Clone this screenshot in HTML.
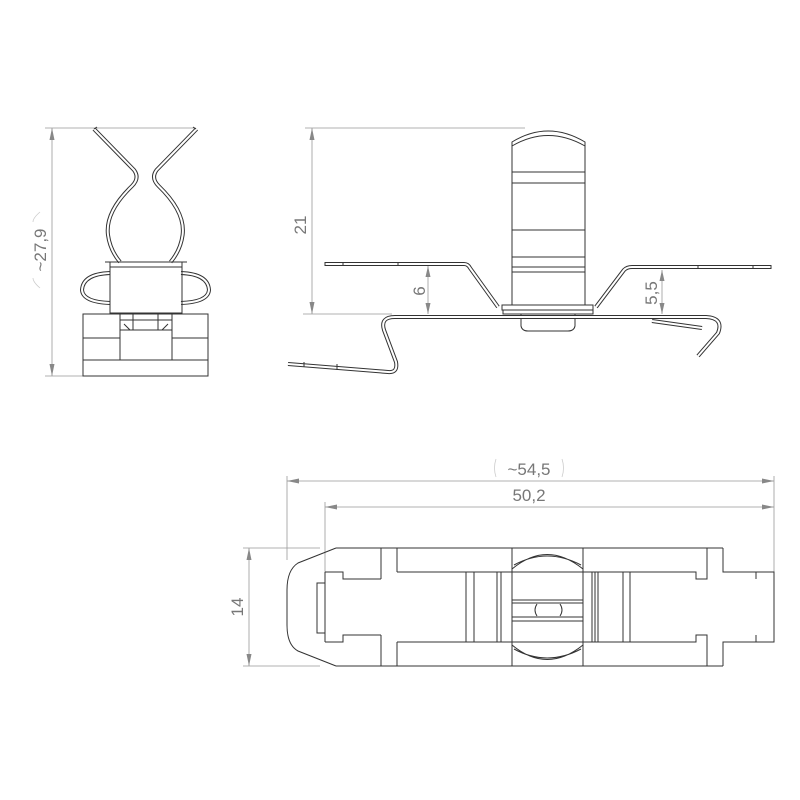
<!DOCTYPE html>
<html><head><meta charset="utf-8"><style>
html,body{margin:0;padding:0;background:#fff;}
svg{display:block;}
text{font-family:"Liberation Sans",sans-serif;fill:#777;font-size:17px;}
.d{stroke:#999;stroke-width:0.8;fill:none;}
.l{stroke:#333;stroke-width:1;fill:none;}
.w1{stroke:#333;stroke-width:4;fill:none;stroke-linejoin:round;}
.w2{stroke:#fff;stroke-width:2;fill:none;stroke-linejoin:round;}
.ar{fill:#888;}
</style></head><body>
<svg width="800" height="800" viewBox="0 0 800 800">
<!-- FRONT VIEW -->
<line class="d" x1="45" y1="128" x2="195" y2="128"/>
<line class="d" x1="45" y1="376" x2="85" y2="376"/>
<line class="d" x1="52" y1="128" x2="52" y2="376"/>
<polygon class="ar" points="52,128 49.5,140 54.5,140"/>
<polygon class="ar" points="52,376 49.5,364 54.5,364"/>
<text transform="translate(46,250) rotate(-90)" text-anchor="middle">~27,9</text>
<path class="d" d="M40,212 Q33,218 33,222 M40,288 Q33,282 33,278" style="stroke:#ccc"/>
<g>
<path class="w1" d="M94,129 L134,170 Q140,178 132,186 Q105,212 108,235 Q110,250 120,262"/>
<path class="w2" d="M94,129 L134,170 Q140,178 132,186 Q105,212 108,235 Q110,250 120,262"/>
<path class="w1" d="M196.6,129 L156.6,170 Q150.6,178 158.6,186 Q185.6,212 182.6,235 Q180.6,250 170.6,262"/>
<path class="w2" d="M196.6,129 L156.6,170 Q150.6,178 158.6,186 Q185.6,212 182.6,235 Q180.6,250 170.6,262"/>
<path class="w1" d="M110,273 Q83,274 82,290 Q83,302 110,303"/>
<path class="w2" d="M110,273 Q83,274 82,290 Q83,302 110,303"/>
<path class="w1" d="M181,273 Q208,274 209,290 Q208,302 181,303"/>
<path class="w2" d="M181,273 Q208,274 209,290 Q208,302 181,303"/>
</g>
<line class="l" x1="94" y1="129" x2="97" y2="127"/><line class="l" x1="196" y1="129" x2="193" y2="127"/>
<rect class="l" x="110" y="262" width="72" height="51" fill="#fff"/>
<line class="l" x1="110" y1="267" x2="182" y2="267"/>
<line class="l" x1="105" y1="262" x2="187" y2="262"/>
<rect class="l" x="83" y="314" width="125" height="62"/>
<path class="l" d="M83,338 H120 M120,314 V360 M172,314 V360 M172,338 H208 M83,360 H208"/>
<path class="l" d="M133,314 V330 M158,314 V330 M120,330 H172 M124,324 L130,330 M168,324 L162,330"/>
<path class="l" d="M120,320 H172"/>

<!-- SIDE VIEW -->
<line class="d" x1="305" y1="128" x2="525" y2="128"/>
<line class="d" x1="303" y1="314" x2="392" y2="314"/>
<line class="d" x1="312" y1="128" x2="312" y2="314"/>
<polygon class="ar" points="312,128 309.5,140 314.5,140"/>
<polygon class="ar" points="312,314 309.5,302 314.5,302"/>
<text transform="translate(306,225) rotate(-90)" text-anchor="middle">21</text>
<path class="l" d="M512,305 V142 Q548,120 585,142 V305"/>
<path class="l" d="M512,146 Q548,125 585,146"/>
<path class="l" d="M512,172 H585 M512,183 H585 M512,230 H585 M512,257 H585 M512,267 H585 M512,272 H585"/>
<rect class="l" x="502" y="305" width="91" height="5"/>
<rect class="l" x="503" y="310" width="90" height="4"/>
<path class="l" d="M521,314 V326 Q522,331 528,331 H568 Q574,331 575,326 V314"/>
<path class="w1" d="M325,264 L464,264 Q468,264 470,268 L498,307"/>
<path class="w2" d="M325,264 L464,264 Q468,264 470,268 L498,307"/>
<path class="w1" d="M596,307 L624,270 Q627,267 632,267 L771,267"/>
<path class="w2" d="M596,307 L624,270 Q627,267 632,267 L771,267"/>
<path class="l" d="M343,262 V266 M398,262 V266 M698,265 V269 M753,265 V269 M771,265 V269 M325,262 V266"/>
<line class="d" x1="428" y1="266" x2="428" y2="314"/>
<polygon class="ar" points="428,266 425.5,277 430.5,277"/>
<polygon class="ar" points="428,314 425.5,303 430.5,303"/>
<text transform="translate(425,291) rotate(-90)" text-anchor="middle">6</text>
<line class="d" x1="662" y1="270" x2="662" y2="314"/>
<polygon class="ar" points="662,270 659.5,281 664.5,281"/>
<polygon class="ar" points="662,314 659.5,303 664.5,303"/>
<text transform="translate(657,293) rotate(-90)" text-anchor="middle">5,5</text>
<path class="w1" d="M288,364 L388,372 Q398,373 396,362 L384,330 Q380,317 395,317 L706,317 Q724,318 718,333 L698,356"/>
<path class="w2" d="M288,364 L388,372 Q398,373 396,362 L384,330 Q380,317 395,317 L706,317 Q724,318 718,333 L698,356"/>
<path class="w1" d="M652,321 L702,328"/>
<path class="w2" d="M652,321 L702,328"/>
<path class="l" d="M304,362 V367 M337,364 V370"/>

<!-- BOTTOM VIEW -->
<line class="d" x1="287" y1="476" x2="287" y2="560"/>
<line class="d" x1="325" y1="502" x2="325" y2="575"/>
<line class="d" x1="774" y1="476" x2="774" y2="575"/>
<line class="d" x1="287" y1="481" x2="774" y2="481"/>
<polygon class="ar" points="287,481 299,478.5 299,483.5"/>
<polygon class="ar" points="774,481 762,478.5 762,483.5"/>
<line class="d" x1="325" y1="507" x2="774" y2="507"/>
<polygon class="ar" points="325,507 337,504.5 337,509.5"/>
<polygon class="ar" points="774,507 762,504.5 762,509.5"/>
<text x="529" y="475" text-anchor="middle">~54,5</text>
<path class="d" d="M496,459 Q493,468 496,477 M562,459 Q565,468 562,477" style="stroke:#ccc"/>
<text x="529" y="501" text-anchor="middle">50,2</text>
<line class="d" x1="243" y1="548" x2="320" y2="548"/>
<line class="d" x1="243" y1="666" x2="320" y2="666"/>
<line class="d" x1="249" y1="548" x2="249" y2="666"/>
<polygon class="ar" points="249,548 246.5,560 251.5,560"/>
<polygon class="ar" points="249,666 246.5,654 251.5,654"/>
<text transform="translate(243,607) rotate(-90)" text-anchor="middle">14</text>
<path class="l" d="M336,548 L298,563 Q287,570 287,590 V625 Q287,645 298,651 L336,666"/>
<path class="l" d="M336,548 H723 M336,666 H723"/>
<path class="l" d="M325,572 V642 M325,572 H343 V579 H381 M325,642 H343 V635 H381"/>
<path class="l" d="M381,548 V579 M397,548 V572 M381,666 V635 M397,666 V642"/>
<path class="l" d="M397,572 H696 V579 H707 V548 M723,548 V572 H756 V579 M397,642 H696 V635 H707 V666 M723,666 V642 H756 V635"/>
<path class="l" d="M756,572 H774 V642 H756"/>
<rect class="l" x="317" y="583" width="8" height="50"/>
<path class="l" d="M466,572 V642 M474,572 V642 M497,572 V642 M501,572 V642 M592,572 V642 M595,572 V642 M598,572 V642 M623,572 V642 M630,572 V642"/>
<path class="l" d="M512,548 V666 M583,548 V666"/>
<path class="l" d="M512,569 Q547,540 583,569 M514,565 Q547,547 581,565 M512,645 Q547,674 583,645 M514,649 Q547,667 581,649"/>
<path class="l" d="M512,600 H583 M512,603 H583 M512,617 H583 M512,621 H583"/>
<path class="l" d="M537,604 Q533,610 537,616 M560,604 Q564,610 560,616"/>
</svg>
</body></html>
